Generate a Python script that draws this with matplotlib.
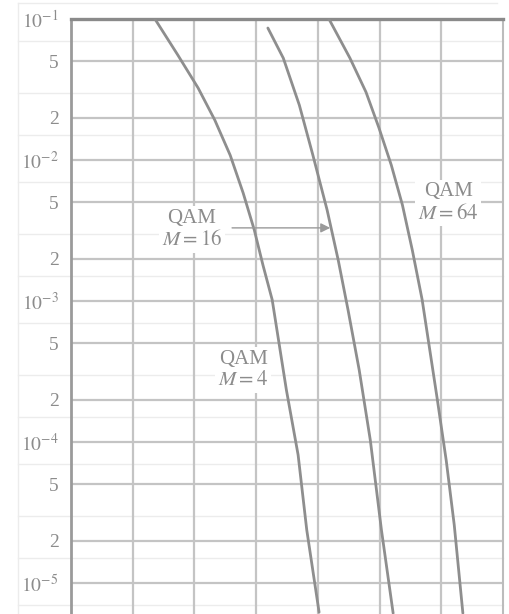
import matplotlib
matplotlib.use("Agg")
import matplotlib.pyplot as plt
from matplotlib.lines import Line2D

plt.rcParams['font.family'] = ['Liberation Serif', 'DejaVu Serif']
plt.rcParams['mathtext.fontset'] = 'stix'

# x in grid divisions (axis labels are cut off in the picture)
x_qam4 = [1.36, 1.73, 2.06, 2.33, 2.58, 2.79, 2.97, 3.11, 3.26, 3.49, 3.68, 3.82, 4.02]
p_qam4 = [1.0e-1, 5.56e-2, 3.24e-2, 1.92e-2, 1.08e-2, 5.83e-3, 3.19e-3, 1.80e-3,
          1.02e-3, 2.34e-4, 8.1e-5, 2.38e-5, 6.2e-6]
x_qam16 = [3.19, 3.44, 3.70, 3.92, 4.15, 4.33, 4.49, 4.67, 4.85, 5.03, 5.22]
p_qam16 = [8.63e-2, 5.28e-2, 2.45e-2, 1.08e-2, 4.42e-3, 1.95e-3, 8.6e-4, 3.24e-4,
           1.03e-4, 2.38e-5, 6.1e-6]
x_qam64 = [4.18, 4.52, 4.78, 4.99, 5.19, 5.37, 5.53, 5.69, 5.93, 6.08, 6.21, 6.35]
p_qam64 = [1.0e-1, 5.28e-2, 3.03e-2, 1.69e-2, 9.2e-3, 4.8e-3, 2.30e-3, 1.02e-3,
           2.08e-4, 7.4e-5, 2.58e-5, 6.1e-6]

ytick_vals = [1e-1, 5e-2, 2e-2, 1e-2, 5e-3, 2e-3, 1e-3, 5e-4, 2e-4, 1e-4,
              5e-5, 2e-5, 1e-5]
ytick_labels = [r'$10^{-1}$', '5', '2', r'$10^{-2}$', '5', '2', r'$10^{-3}$', '5', '2',
                r'$10^{-4}$', '5', '2', r'$10^{-5}$']
minor_vals = [7e-2, 3e-2, 1.5e-2, 7e-3, 3e-3, 1.5e-3, 7e-4, 3e-4, 1.5e-4,
              7e-5, 3e-5, 1.5e-5, 7e-6]

W, H = 509, 614
fig = plt.figure(figsize=(W / 100, H / 100), dpi=100)
ax = fig.add_axes([71 / W, 0, 432 / W, 1 - 19 / H])
ax.set_yscale('log')
ax.set_xlim(0, 7)
ax.set_ylim(10 ** -5.22, 1e-1)

grid_c = '#c4c4c4'
text_c = '#8c8c8c'
curve_c = '#8e8e8e'

# faint in-between lines, running out into the label margin
for v in minor_vals:
    ax.axhline(v, xmin=-53 / 432, xmax=1, color='#ececec', lw=1.0,
               clip_on=False, zorder=0)
for v in ytick_vals:
    ax.axhline(v, color=grid_c, lw=1.6, zorder=1)
for xv in range(1, 7):
    ax.axvline(xv, color=grid_c, lw=1.6, zorder=1)

ax.set_xticks([])
ax.set_yticks(ytick_vals, ytick_labels)
ax.yaxis.set_minor_locator(matplotlib.ticker.NullLocator())
ax.tick_params(axis='y', length=0, pad=9, labelcolor=text_c, labelsize=14)

ax.spines['bottom'].set_visible(False)
ax.spines['top'].set_color('#8a8a8a')
ax.spines['top'].set_linewidth(2.4)
ax.spines['left'].set_color('#9a9a9a')
ax.spines['left'].set_linewidth(2.0)
ax.spines['right'].set_color('#bcbcbc')
ax.spines['right'].set_linewidth(1.5)

for xs, ps in [(x_qam4, p_qam4), (x_qam16, p_qam16), (x_qam64, p_qam64)]:
    ax.plot(xs, ps, color=curve_c, lw=2.0, zorder=3,
            solid_capstyle='round', solid_joinstyle='round')

box = dict(facecolor='white', edgecolor='none', pad=2)
ax.text(1.96, 3.2e-3, 'QAM\n$M = 16$', ha='center', va='center', fontsize=15,
        color=text_c, linespacing=1.15, bbox=box, zorder=4)
ax.text(6.11, 4.95e-3, 'QAM\n$M = 64$', ha='center', va='center', fontsize=15,
        color=text_c, linespacing=1.15, bbox=box, zorder=4)
ax.text(2.79, 3.24e-4, 'QAM\n$M = 4$', ha='center', va='center', fontsize=15,
        color=text_c, linespacing=1.15, bbox=box, zorder=4)
ax.annotate('', xy=(4.20, 3.3e-3), xytext=(2.61, 3.3e-3),
            arrowprops=dict(arrowstyle='-|>', color='#9a9a9a', lw=1.0,
                            mutation_scale=14, shrinkA=0, shrinkB=0), zorder=5)

# faint frame of the scanned page
fig.add_artist(Line2D([18 / W, 497 / W], [1 - 3 / H, 1 - 3 / H], color='#ececec', lw=1))
fig.add_artist(Line2D([18 / W, 18 / W], [0, 1 - 3 / H], color='#ececec', lw=1))

fig.savefig('out.png', dpi=100)
